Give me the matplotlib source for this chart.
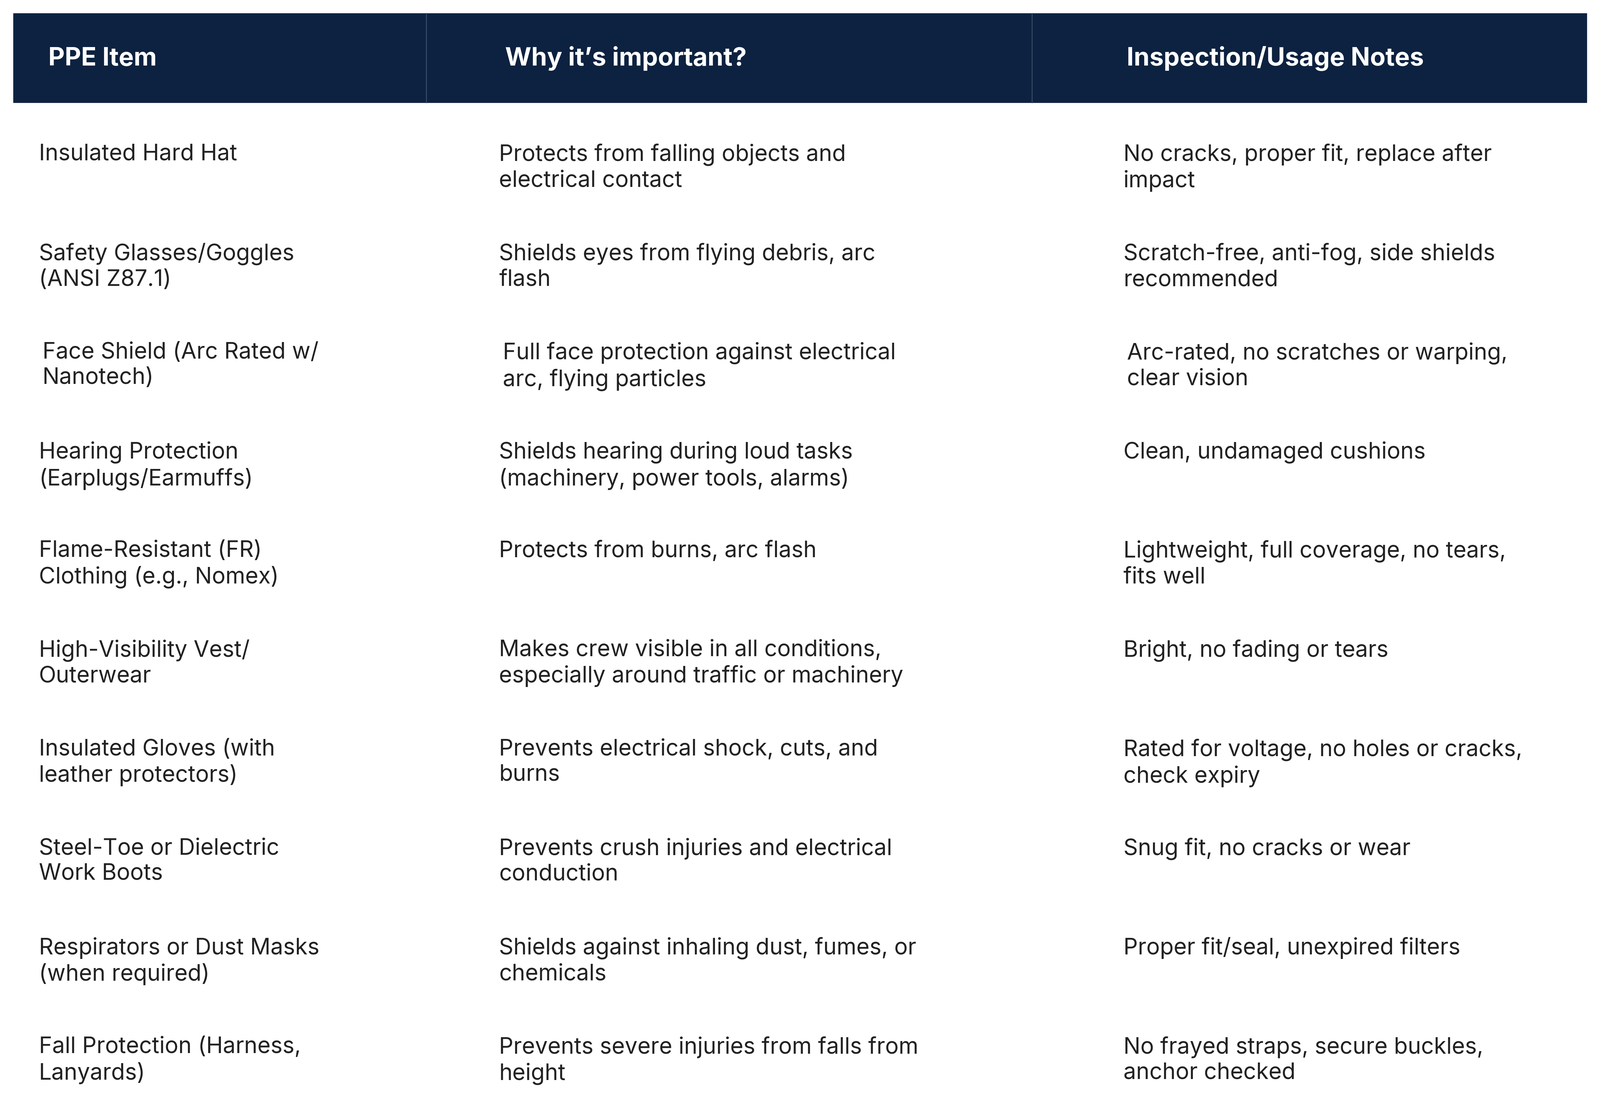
import matplotlib.pyplot as plt
from matplotlib.patches import Rectangle

headers = ["PPE Item", "Why it\u2019s important?", "Inspection/Usage Notes"]

items = ["Insulated Hard Hat", "Safety Glasses/Goggles\n(ANSI Z87.1)",
         "Face Shield (Arc Rated w/\nNanotech)", "Hearing Protection\n(Earplugs/Earmuffs)",
         "Flame-Resistant (FR)\nClothing (e.g., Nomex)", "High-Visibility Vest/\nOuterwear",
         "Insulated Gloves (with\nleather protectors)", "Steel-Toe or Dielectric\nWork Boots",
         "Respirators or Dust Masks\n(when required)", "Fall Protection (Harness,\nLanyards)"]

why = ["Protects from falling objects and\nelectrical contact",
       "Shields eyes from flying debris, arc\nflash",
       "Full face protection against electrical\narc, flying particles",
       "Shields hearing during loud tasks\n(machinery, power tools, alarms)",
       "Protects from burns, arc flash",
       "Makes crew visible in all conditions,\nespecially around traffic or machinery",
       "Prevents electrical shock, cuts, and\nburns",
       "Prevents crush injuries and electrical\nconduction",
       "Shields against inhaling dust, fumes, or\nchemicals",
       "Prevents severe injuries from falls from\nheight"]

notes = ["No cracks, proper fit, replace after\nimpact",
         "Scratch-free, anti-fog, side shields\nrecommended",
         "Arc-rated, no scratches or warping,\nclear vision",
         "Clean, undamaged cushions",
         "Lightweight, full coverage, no tears,\nfits well",
         "Bright, no fading or tears",
         "Rated for voltage, no holes or cracks,\ncheck expiry",
         "Snug fit, no cracks or wear",
         "Proper fit/seal, unexpired filters",
         "No frayed straps, secure buckles,\nanchor checked"]

W, H = 1558, 1088
fig = plt.figure(figsize=(49.32, 34.42), dpi=100)
ax = fig.add_axes([0, 0, 1, 1])
ax.set_xlim(0, W)
ax.set_ylim(H, 0)
ax.axis("off")
plt.rcParams["font.family"] = "Inter"

navy = "#0d2240"
ax.add_patch(Rectangle((13, 13), 1532, 87, color=navy))
for x in [415, 1005]:
    ax.plot([x, x], [13, 100], color="#3a4d68", lw=2)

header_x = [47, 492, 1097]
for x, h in zip(header_x, headers):
    ax.text(x, 57, h, color="white", fontsize=56, fontweight="bold", va="center", ha="left")

col_x = [38, 486, 1094]
for i, row in enumerate(zip(items, why, notes)):
    y = 140 + i * 96.6
    dx = 3.5 if i == 2 else 0
    for x, t in zip(col_x, row):
        ax.text(x + dx, y, t, color="#222222", fontsize=50, va="top", ha="left",
                linespacing=1.25)

fig.savefig("out.png", dpi=100, facecolor="white")
